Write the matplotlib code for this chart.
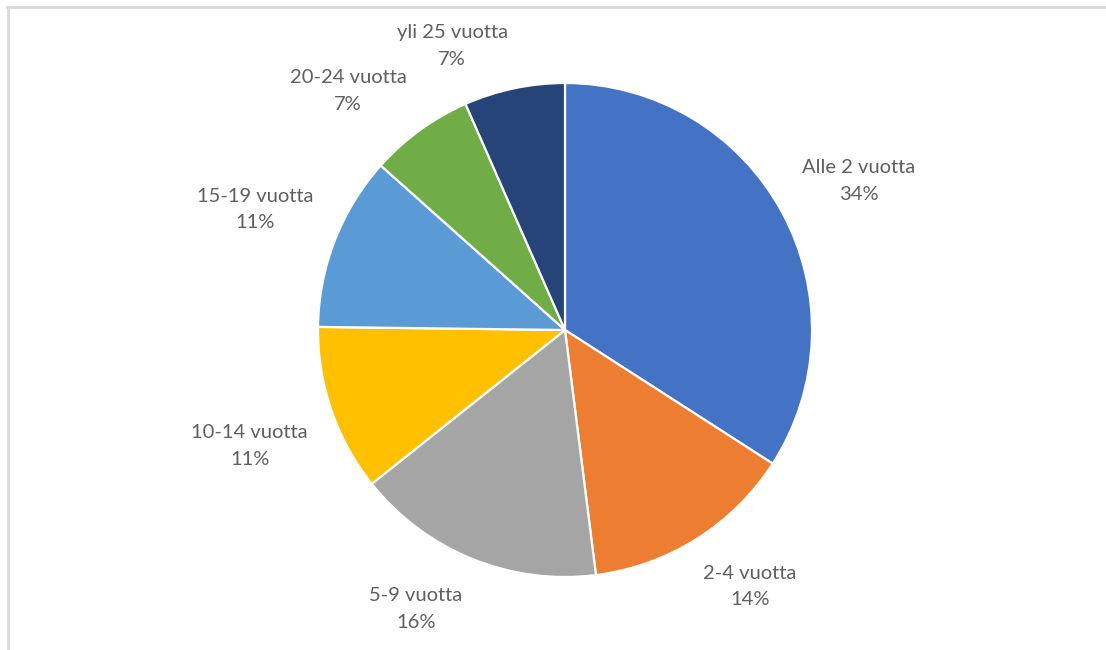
import matplotlib
matplotlib.use("Agg")
import matplotlib.pyplot as plt
from matplotlib.lines import Line2D
import numpy as np

categories = ["Alle 2 vuotta", "2-4 vuotta", "5-9 vuotta", "10-14 vuotta",
              "15-19 vuotta", "20-24 vuotta", "yli 25 vuotta"]
values = [34.1, 13.9, 16.3, 10.9, 11.4, 6.8, 6.6]
colors = ["#4472C4", "#ED7D31", "#A5A5A5", "#FFC000", "#5B9BD5", "#70AD47", "#264478"]

# label placement tweaks (radius factor, angle offset in degrees)
label_radius = [1.334, 1.28, 1.28, 1.36, 1.346, 1.307, 1.238]
label_angle_off = [-1.7, 3.6, -6.0, 1.3, 0.0, 6.2, 9.8]

W, H = 1106, 650
fig = plt.figure(figsize=(W / 100, H / 100), dpi=100)
ax = fig.add_axes([0, 0, 1, 1])

cx, cy, R = 565, H - 330, 247
wedges, _ = ax.pie(values, colors=colors, startangle=90, counterclock=False,
                   center=(cx, cy), radius=R, frame=True,
                   wedgeprops=dict(edgecolor="white", linewidth=1.6))
ax.set_xlim(0, W)
ax.set_ylim(0, H)
ax.set_aspect("equal")
ax.axis("off")

total = sum(values)
for w, cat, v, rf, ao in zip(wedges, categories, values, label_radius, label_angle_off):
    mid = np.deg2rad((w.theta1 + w.theta2) / 2 + ao)
    x = cx + rf * R * np.cos(mid)
    y = cy + rf * R * np.sin(mid)
    ax.text(x, y, f"{cat}\n{round(v / total * 100):.0f}%", ha="center", va="center",
            color="#5f5f5f", fontsize=14.5, family="Lato", linespacing=1.68)

# partial frame (top and left edges)
fig.add_artist(Line2D([7 / W, 1], [1 - 7 / H, 1 - 7 / H], transform=fig.transFigure,
                      color="#D9D9D9", linewidth=2))
fig.add_artist(Line2D([7.5 / W, 7.5 / W], [0, 1 - 7 / H], transform=fig.transFigure,
                      color="#D9D9D9", linewidth=2))

fig.savefig("out.png", dpi=100, facecolor="white")
